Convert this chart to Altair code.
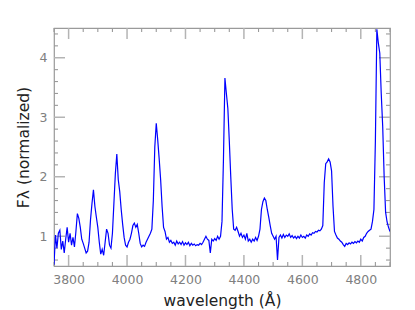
import altair as alt
import pandas as pd

wavelength = list(range(3750, 4901, 5))
flux = [
    0.52, 1.02, 0.80, 1.05, 1.10, 0.78, 0.92, 0.72, 0.95, 1.15,
    0.90, 1.05, 0.85, 0.98, 0.82, 1.08, 1.38, 1.30, 1.15, 0.95,
    0.88, 0.80, 0.72, 0.75, 0.90, 1.28, 1.55, 1.78, 1.50, 1.32,
    1.15, 0.90, 0.70, 0.78, 0.68, 0.90, 1.12, 1.05, 0.85, 0.80,
    1.05, 1.55, 2.05, 2.38, 1.95, 1.75, 1.45, 1.20, 0.98, 0.85,
    0.82, 0.90, 0.95, 1.05, 1.18, 1.22, 1.15, 1.20, 1.05, 0.88,
    0.82, 0.85, 0.83, 0.90, 0.95, 1.00, 1.05, 1.12, 1.60, 2.50,
    2.90, 2.62, 2.30, 1.95, 1.50, 1.15, 1.08, 0.95, 0.98, 0.90,
    0.93, 0.88, 0.90, 0.85, 0.92, 0.87, 0.90, 0.86, 0.91, 0.85,
    0.89, 0.86, 0.90, 0.84, 0.88, 0.85, 0.87, 0.84, 0.86, 0.85,
    0.88, 0.86, 0.90, 0.95, 1.00, 0.95, 0.93, 0.72, 0.95, 0.92,
    0.96, 0.93, 1.00, 0.95, 1.00, 1.25, 2.30, 3.66, 3.40, 3.15,
    2.60, 2.00, 1.45, 1.12, 1.10, 1.15, 1.08, 1.00, 1.05, 0.98,
    1.02, 0.95, 1.05, 0.92, 0.95, 0.90, 0.95, 0.92, 0.98, 0.93,
    1.00, 1.12, 1.45, 1.58, 1.64, 1.60, 1.45, 1.32, 1.18, 1.05,
    1.00, 0.95, 1.00, 0.60, 0.98, 1.02, 0.97, 1.03, 0.98, 1.02,
    1.00, 1.04, 0.98, 1.01, 0.97, 1.00, 0.96, 1.00, 0.97, 1.02,
    0.98, 1.00, 0.97, 1.02, 1.00, 1.04, 1.02, 1.06, 1.05, 1.08,
    1.07, 1.10, 1.09, 1.12, 1.18, 1.90, 2.22, 2.25, 2.30, 2.25,
    2.10, 1.50, 1.08, 1.02, 0.97, 0.95, 0.92, 0.90, 0.86, 0.83,
    0.88, 0.86, 0.89, 0.87, 0.90, 0.88, 0.91, 0.89, 0.92, 0.90,
    0.95, 0.92, 0.98, 1.00, 1.05, 1.08, 1.10, 1.12, 1.25, 1.45,
    2.60, 4.48, 4.25, 4.08, 3.40, 2.85, 2.00, 1.40, 1.24, 1.15,
    1.08,
]

x_major = [3800, 4000, 4200, 4400, 4600, 4800]
x_minor = [v for v in range(3750, 4901, 50) if v not in x_major]
y_major = [1, 2, 3, 4]
y_minor = [0.6, 0.8, 1.2, 1.4, 1.6, 1.8, 2.2, 2.4, 2.6, 2.8,
           3.2, 3.4, 3.6, 3.8, 4.2, 4.4]

W, H = 336, 238
MAJ, MIN = 11, 4

df = pd.DataFrame({"wavelength": wavelength, "flux": flux})

xs = alt.Scale(domain=[3750, 4900], nice=False, zero=False)
ys = alt.Scale(domain=[0.5, 4.5], nice=False, zero=False)

line = alt.Chart(df).mark_line(color="#0000ff", strokeWidth=1.2, clip=True).encode(
    x=alt.X("wavelength:Q", scale=xs,
            axis=alt.Axis(values=x_major, format="d", ticks=False, domain=False,
                          grid=False, labelPadding=7, title="wavelength (Å)")),
    y=alt.Y("flux:Q", scale=ys,
            axis=alt.Axis(values=y_major, format="d", ticks=False, domain=False,
                          grid=False, labelPadding=7, title="Fλ (normalized)")),
)


def xticks(vals, color, width, y0, y1):
    d = pd.DataFrame({"wavelength": vals})
    return alt.Chart(d).mark_rule(color=color, strokeWidth=width).encode(
        x=alt.X("wavelength:Q", scale=xs), y=alt.value(y0), y2=alt.value(y1))


def yticks(vals, color, width, x0, x1):
    d = pd.DataFrame({"flux": vals})
    return alt.Chart(d).mark_rule(color=color, strokeWidth=width).encode(
        y=alt.Y("flux:Q", scale=ys), x=alt.value(x0), x2=alt.value(x1))


maj_c, min_c = "#b4b4b4", "#9a9a9a"
ticks = [
    xticks(x_major, maj_c, 1.5, H - MAJ, H), xticks(x_major, maj_c, 1.5, 0, MAJ),
    xticks(x_minor, min_c, 1.1, H - MIN, H), xticks(x_minor, min_c, 1.1, 0, MIN),
    yticks(y_major, maj_c, 1.5, 0, MAJ), yticks(y_major, maj_c, 1.5, W - MAJ, W),
    yticks(y_minor, min_c, 1.1, 0, MIN), yticks(y_minor, min_c, 1.1, W - MIN, W),
]

chart = (
    alt.layer(*ticks, line)
    .properties(
        width=W,
        height=H,
        autosize=alt.AutoSizeParams(type="none"),
        padding={"left": 46, "top": 20, "right": 17, "bottom": 44},
    )
    .configure_view(stroke="#9a9a9a", strokeWidth=1.2)
    .configure_axis(labelColor="#808080", labelFontSize=12.5,
                    labelFont="DejaVu Sans", titleFont="DejaVu Sans",
                    titleFontSize=15.5, titleColor="#222222",
                    titleFontWeight="normal", titlePadding=8,
                    labelFlush=False, labelOverlap=False)
)

chart.save("out.html", embed_options={"renderer": "svg", "actions": False})
